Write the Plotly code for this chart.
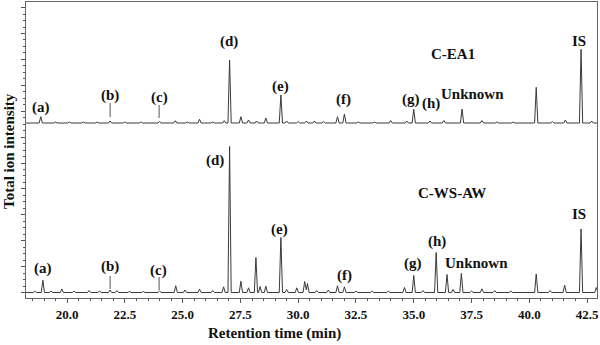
import numpy as np
import plotly.graph_objects as go

# ---- data (retention time in min, peak height in arbitrary units) ----
ea1_times = [18.86, 19.5, 20.1, 20.7, 21.3, 21.86, 22.5, 23.2, 24.0, 24.68, 25.2, 25.73, 26.3, 26.8,
             27.03, 27.52, 27.85, 28.2, 28.6, 29.25, 29.5, 30.0, 30.35, 30.7, 31.1, 31.7, 32.0, 32.6,
             33.3, 34.0, 34.7, 35.0, 35.7, 36.3, 37.09, 37.95, 38.6, 39.3, 40.3, 41.0, 41.56, 42.24, 42.7]
ea1_heights = [6.3, 1, 1, 1, 1, 2, 1, 1, 1.5, 2.3, 1, 3.7, 1, 2.3,
               63, 6.3, 3, 2, 5, 28, 2, 1.5, 2, 2, 1.5, 6.3, 9, 1,
               1, 2.5, 2, 13.7, 2, 2.5, 14, 2.5, 1, 1, 35.7, 1.5, 3, 73.7, 2]

ws_times = [18.6, 18.95, 19.3, 19.77, 20.3, 20.95, 21.4, 21.86, 22.15, 22.7, 23.3, 24.0, 24.7, 25.1,
            25.73, 26.3, 26.77, 27.03, 27.52, 27.85, 28.17, 28.35, 28.6, 29.25, 29.5, 29.94, 30.28,
            30.4, 30.8, 31.3, 31.7, 32.0, 32.5, 33.2, 33.9, 34.6, 35.0, 35.4, 35.97, 36.44, 36.7,
            37.06, 37.5, 37.95, 38.5, 39.2, 40.3, 40.9, 41.53, 42.24, 42.9]
ws_heights = [1.5, 12.3, 1.5, 3.5, 1.5, 2, 1.5, 2.5, 2, 1, 1, 1.5, 6.7, 2.5,
              3.3, 2, 5.7, 146, 11.3, 4.7, 35, 6, 6.3, 55, 3, 4.7, 11,
              9, 2, 2.5, 6.7, 5.7, 1.5, 1.5, 1.5, 5, 17, 2, 40, 18, 3,
              19, 1.5, 3.7, 2, 1.5, 18.5, 2, 7.3, 63.5, 5]

EA1_OFFSET = 169.5          # vertical offset of the upper chromatogram
X_START, X_END = 18.22, 42.93

# peak labels
ea1_labels = ["(a)", "(b)", "(c)", "(d)", "(e)", "(f)", "(g)", "(h)", "Unknown", "C-EA1", "IS"]
ea1_lab_x = [18.87, 21.86, 23.98, 27.01, 29.22, 31.95, 34.89, 35.76, 37.53, 36.71, 42.16]
ea1_lab_y = [185.5, 197.5, 195.5, 251.5, 206.5, 193.5, 193.5, 189.5, 198.5, 238.5, 251.5]

ws_labels = ["(a)", "(b)", "(c)", "(d)", "(e)", "(f)", "(g)", "(h)", "Unknown", "C-WS-AW", "IS"]
ws_lab_x = [18.96, 21.86, 23.94, 26.41, 29.18, 31.99, 34.98, 36.02, 37.71, 36.67, 42.16]
ws_lab_y = [24.5, 26.5, 22.5, 132.5, 63.5, 17.5, 29.5, 51.5, 29.5, 99.5, 78.5]

HALF_W = 0.07  # peak half width (min), drawing style


def build_trace(times, heights, offset):
    t = np.array(times)
    h = np.array(heights)
    xs = np.sort(np.concatenate([t - HALF_W, t, t + HALF_W, [X_START, X_END]]))
    ys = np.zeros_like(xs)
    for ti, hi in zip(t, h):
        ys += hi * np.clip(1 - np.abs(xs - ti) / HALF_W, 0, None)
    return xs, ys + offset


fig = go.Figure()
line_style = dict(color="#3a3a3a", width=1)
x1, y1 = build_trace(ea1_times, ea1_heights, EA1_OFFSET)
x2, y2 = build_trace(ws_times, ws_heights, 0)
fig.add_trace(go.Scatter(x=x1, y=y1, mode="lines", line=line_style, showlegend=False, hoverinfo="skip"))
fig.add_trace(go.Scatter(x=x2, y=y2, mode="lines", line=line_style, showlegend=False, hoverinfo="skip"))

lab_font = dict(family="Liberation Serif", size=15, color="#111111", weight="bold")
for labs, lx, ly in ((ea1_labels, ea1_lab_x, ea1_lab_y), (ws_labels, ws_lab_x, ws_lab_y)):
    for s, x, y in zip(labs, lx, ly):
        fig.add_annotation(x=x, y=y, text=s, showarrow=False, font=lab_font,
                           xanchor="center", yanchor="middle")

# short pointer lines for (b) and (c)
for x, y0, y1_ in ((21.86, 175.5, 189.5), (23.98, 174.5, 187.5), (21.86, 3.5, 16.5), (23.98, 2.5, 15.5)):
    fig.add_shape(type="line", x0=x, x1=x, y0=y0, y1=y1_, line=dict(color="#555555", width=1))

fig.add_annotation(xref="paper", yref="paper", x=-0.0298, y=0.4966, text="Total ion intensity",
                   textangle=-90, showarrow=False, font=lab_font, xanchor="center", yanchor="middle")
fig.add_annotation(xref="paper", yref="paper", x=0.436, y=-0.1216, text="Retention time (min)",
                   showarrow=False, font=lab_font, xanchor="center", yanchor="middle")

fig.update_layout(
    width=600, height=345,
    margin=dict(l=26, r=3, t=2, b=47),
    plot_bgcolor="white", paper_bgcolor="white",
)
fig.update_xaxes(range=[X_START, X_END], tick0=20, dtick=2.5, tickformat=".1f",
                 ticks="outside", ticklen=4, tickcolor="#555555",
                 minor=dict(dtick=0.5, tick0=20, ticks="outside", ticklen=2, tickcolor="#555555"),
                 showline=True, mirror=True, linecolor="#666666", linewidth=1,
                 showgrid=False, zeroline=False,
                 tickfont=dict(family="Liberation Serif", size=13, color="#111111", weight="bold"))
fig.update_yaxes(range=[-5.5, 290.5], tick0=0, dtick=25.9, showticklabels=False,
                 ticks="outside", ticklen=4, tickcolor="#555555",
                 minor=dict(dtick=6.475, tick0=0, ticks="outside", ticklen=2, tickcolor="#555555"),
                 showline=True, mirror=True, linecolor="#666666", linewidth=1,
                 showgrid=False, zeroline=False)

fig.write_html("out.html", config={"displayModeBar": False},
               post_script="document.body.style.margin='0px';")
